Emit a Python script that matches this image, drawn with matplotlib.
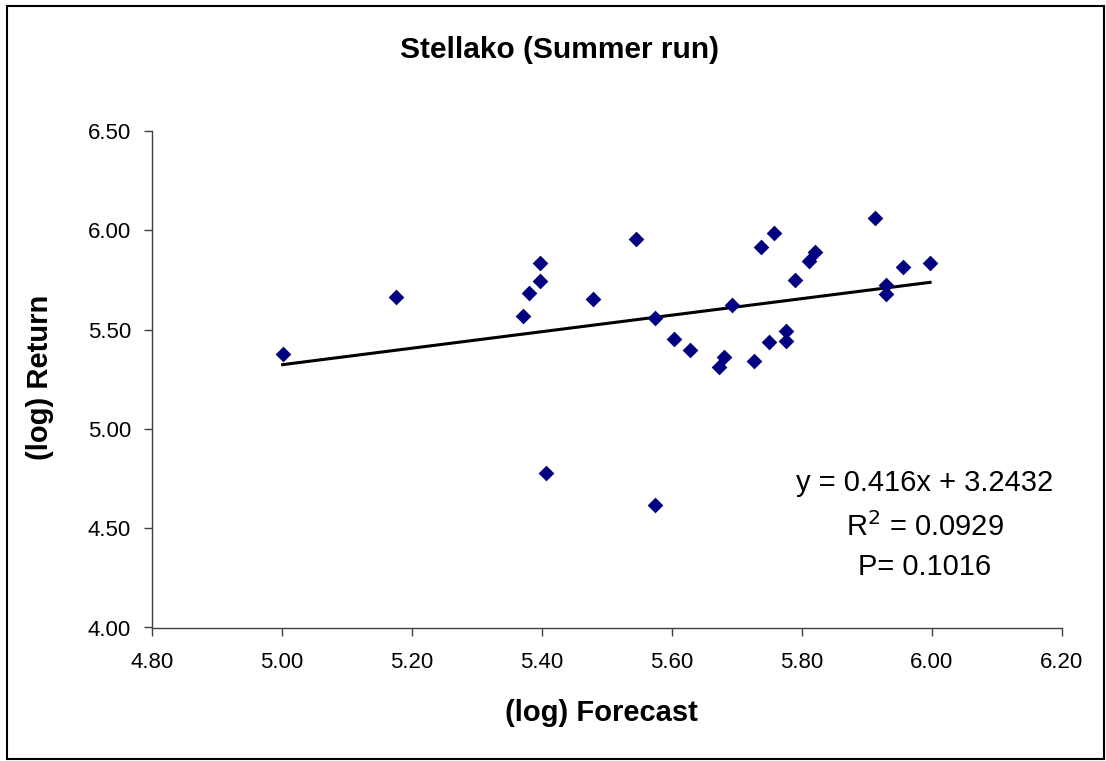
import numpy as np
import matplotlib.pyplot as plt
from matplotlib.patches import Rectangle

plt.rcParams['font.family'] = ['Liberation Sans', 'DejaVu Sans']

# (log) forecast vs (log) return
forecast = [5.001, 5.176, 5.371, 5.380, 5.397, 5.397, 5.406, 5.478, 5.545, 5.574,
            5.574, 5.603, 5.627, 5.673, 5.680, 5.693, 5.726, 5.737, 5.749, 5.757,
            5.775, 5.775, 5.789, 5.811, 5.820, 5.912, 5.929, 5.929, 5.956, 5.997]
returns = [5.379, 5.663, 5.568, 5.683, 5.747, 5.836, 4.780, 5.655, 5.958, 5.560,
           4.617, 5.454, 5.397, 5.310, 5.360, 5.625, 5.340, 5.918, 5.437, 5.986,
           5.492, 5.441, 5.749, 5.844, 5.891, 6.062, 5.727, 5.680, 5.816, 5.834]

slope = 0.416
intercept = 3.2432
r2 = 0.0929
p_val = 0.1016

xticks = [4.80, 5.00, 5.20, 5.40, 5.60, 5.80, 6.00, 6.20]
yticks = [4.00, 4.50, 5.00, 5.50, 6.00, 6.50]

fig = plt.figure(figsize=(11.06, 7.61), dpi=100)
ax = fig.add_axes([152/1106, 1 - 627.5/761, 910/1106, 496.5/761])

ax.scatter(forecast, returns, marker='D', s=64, color='#000080', zorder=3, linewidths=0)

xl = np.array([min(forecast), max(forecast)])
ax.plot(xl, slope * xl + intercept, color='black', lw=2.2, zorder=2)

ax.set_xlim(4.8, 6.2)
ax.set_ylim(4.0, 6.5)
ax.set_xticks(xticks)
ax.set_yticks(yticks)
ax.set_xticklabels(['%.2f' % t for t in xticks])
ax.set_yticklabels(['%.2f' % t for t in yticks])
ax.tick_params(labelsize=16, direction='out', length=6, width=1, color='#404040')
ax.tick_params(axis='x', pad=12)
ax.tick_params(axis='y', pad=9)

for s in ['top', 'right']:
    ax.spines[s].set_visible(False)
for s in ['left', 'bottom']:
    ax.spines[s].set_color('#404040')
    ax.spines[s].set_linewidth(1)

fig.text(601/1106, 1 - 713/761, '(log) Forecast', ha='center', va='center',
         fontsize=21, fontweight='bold')
fig.text(40/1106, 1 - 377/761, '(log) Return', ha='center', va='center',
         rotation=90, fontsize=21, fontweight='bold')
fig.text(559/1106, 1 - 50/761, 'Stellako (Summer run)', ha='center', va='center',
         fontsize=21.5, fontweight='bold')

ax.text(0.849, 0.291, 'y = %.3fx + %.4f' % (slope, intercept), transform=ax.transAxes,
        ha='center', va='center', fontsize=21)
ax.text(0.849, 0.2024, 'R$^2$ = %.4f' % r2, transform=ax.transAxes,
        ha='center', va='center', fontsize=21)
ax.text(0.849, 0.122, 'P= %.4f' % p_val, transform=ax.transAxes,
        ha='center', va='center', fontsize=21)

fig.patches.append(Rectangle((7/1106, 1 - 759/761), 1097/1106, 753/761,
                             transform=fig.transFigure, fill=False,
                             edgecolor='black', lw=1.5))

fig.savefig('out.png', dpi=100)
